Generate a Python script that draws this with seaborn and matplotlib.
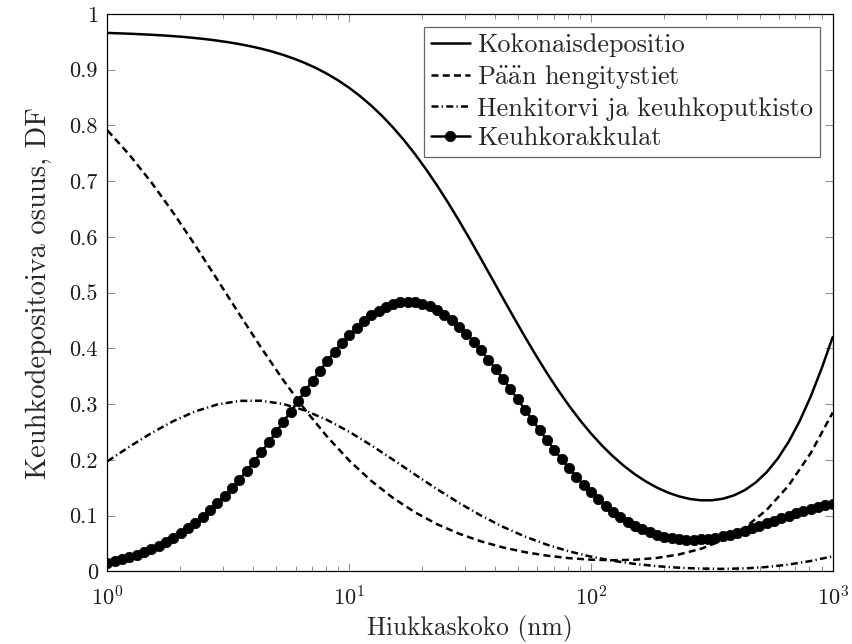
import numpy as np
import pandas as pd
import matplotlib
matplotlib.use("Agg")
import matplotlib.pyplot as plt
import seaborn as sns

# ---------------- data ----------------
# particle size grids (nm), log-spaced samples from 1 to 1000 nm
x_total = np.logspace(0, 3, 67)
x_line = np.logspace(0, 3, 34)
x_mark = np.logspace(0, 3, 100)

total = [0.9660, 0.9653, 0.9646, 0.9637, 0.9627, 0.9616, 0.9602, 0.9587, 0.9568, 0.9547,
         0.9522, 0.9493, 0.9460, 0.9421, 0.9377, 0.9325, 0.9265, 0.9197, 0.9118, 0.9028,
         0.8925, 0.8808, 0.8675, 0.8525, 0.8357, 0.8170, 0.7962, 0.7733, 0.7483, 0.7212,
         0.6922, 0.6614, 0.6289, 0.5952, 0.5605, 0.5253, 0.4899, 0.4549, 0.4206, 0.3874,
         0.3556, 0.3256, 0.2975, 0.2714, 0.2476, 0.2260, 0.2066, 0.1894, 0.1743, 0.1614,
         0.1505, 0.1416, 0.1348, 0.1301, 0.1277, 0.1277, 0.1305, 0.1364, 0.1459, 0.1597,
         0.1783, 0.2025, 0.2329, 0.2700, 0.3139, 0.3645, 0.4204]

head = [0.7911, 0.7473, 0.6978, 0.6431, 0.5845, 0.5234, 0.4616, 0.4009, 0.3432,
        0.2897, 0.2416, 0.1991, 0.1626, 0.1317, 0.1060, 0.0848, 0.0677, 0.0540,
        0.0431, 0.0347, 0.0284, 0.0239, 0.0212, 0.0202, 0.0211, 0.0243, 0.0305,
        0.0406, 0.0560, 0.0786, 0.1106, 0.1545, 0.2124, 0.2850]

trachea = [0.1977, 0.2239, 0.2483, 0.2698, 0.2872, 0.2995, 0.3060, 0.3063, 0.3004,
           0.2887, 0.2717, 0.2506, 0.2264, 0.2004, 0.1737, 0.1476, 0.1229, 0.1002,
           0.0800, 0.0626, 0.0480, 0.0361, 0.0266, 0.0192, 0.0136, 0.0095, 0.0068,
           0.0052, 0.0047, 0.0056, 0.0081, 0.0124, 0.0188, 0.0272]

alveolar = [0.0159, 0.0187, 0.0220, 0.0257, 0.0299, 0.0347, 0.0401, 0.0461, 0.0528, 0.0603,
            0.0685, 0.0775, 0.0874, 0.0981, 0.1097, 0.1221, 0.1355, 0.1496, 0.1646, 0.1804,
            0.1969, 0.2140, 0.2316, 0.2497, 0.2681, 0.2868, 0.3054, 0.3240, 0.3423, 0.3602,
            0.3775, 0.3940, 0.4096, 0.4240, 0.4373, 0.4490, 0.4593, 0.4679, 0.4747, 0.4797,
            0.4827, 0.4839, 0.4830, 0.4802, 0.4755, 0.4690, 0.4607, 0.4507, 0.4391, 0.4261,
            0.4119, 0.3965, 0.3801, 0.3630, 0.3453, 0.3271, 0.3087, 0.2902, 0.2718, 0.2535,
            0.2356, 0.2182, 0.2014, 0.1853, 0.1700, 0.1556, 0.1420, 0.1294, 0.1179, 0.1073,
            0.0978, 0.0893, 0.0819, 0.0754, 0.0700, 0.0656, 0.0621, 0.0595, 0.0578, 0.0569,
            0.0568, 0.0574, 0.0587, 0.0606, 0.0631, 0.0661, 0.0695, 0.0732, 0.0773, 0.0816,
            0.0861, 0.0907, 0.0952, 0.0997, 0.1041, 0.1083, 0.1122, 0.1157, 0.1189, 0.1217]

labels = ["Kokonaisdepositio", r"P$\ddot{\mathrm{a}}\ddot{\mathrm{a}}$n hengitystiet",
          "Henkitorvi ja keuhkoputkisto", "Keuhkorakkulat"]
ytick_vals = [0, 0.1, 0.2, 0.3, 0.4, 0.5, 0.6, 0.7, 0.8, 0.9, 1]
ytick_text = ["0", "0.1", "0.2", "0.3", "0.4", "0.5", "0.6", "0.7", "0.8", "0.9", "1"]
xtick_vals = [1, 10, 100, 1000]

# ---------------- style ----------------
sns.set_style("ticks")
plt.rcParams["font.family"] = ["cmr10", "DejaVu Serif"]
plt.rcParams["mathtext.fontset"] = "cm"
plt.rcParams["axes.formatter.use_mathtext"] = True
plt.rcParams["axes.unicode_minus"] = False
FS_TICK = 16
FS_LAB = 18.3
FS_LEG = 18.9
FS_YLAB = 20.5

fig = plt.figure(figsize=(8.53, 6.44), dpi=100)
ax = fig.add_axes([0.126, 0.1126, 0.8502, 0.8657])

lw = 1.8
sns.lineplot(x=x_total, y=total, ax=ax, color="k", lw=lw, label=labels[0])
sns.lineplot(x=x_line, y=head, ax=ax, color="k", lw=lw,
             linestyle=(0, (2.8, 1.7)), label=labels[1])
sns.lineplot(x=x_line, y=trachea, ax=ax, color="k", lw=lw,
             linestyle=(0, (2.8, 1.3, 0.5, 1.3)), label=labels[2])
sns.lineplot(x=x_mark, y=alveolar, ax=ax, color="k", lw=lw, marker="o",
             markersize=7.5, markeredgecolor="k", markerfacecolor="k",
             markeredgewidth=0.5, label=labels[3])

ax.set_xscale("log")
ax.set_xlim(1, 1000)
ax.set_ylim(0, 1)
ax.set_xticks(xtick_vals)
ax.set_yticks(ytick_vals)
ax.set_yticklabels(ytick_text)

for s in ax.spines.values():
    s.set_linewidth(0.9)
    s.set_color("k")

ax.tick_params(which="both", direction="in", top=True, right=True,
               color="0.55", width=0.7, labelsize=FS_TICK)
ax.tick_params(which="major", length=6)
ax.tick_params(which="minor", length=3.8)
ax.tick_params(axis="y", which="major", pad=7)
ax.tick_params(axis="x", which="major", pad=10)

ax.set_xlabel("Hiukkaskoko (nm)", fontsize=FS_LAB, color="0.15")
ax.set_ylabel("Keuhkodepositoiva osuus, DF", fontsize=FS_YLAB, color="0.15")
ax.xaxis.set_label_coords(0.5, -0.078)
ax.yaxis.set_label_coords(-0.0765, 0.5)
for t in ax.get_xticklabels() + ax.get_yticklabels():
    t.set_color("0.1")

leg = ax.legend(loc="upper right", fontsize=FS_LEG, frameon=True, fancybox=False,
                edgecolor="0.4", framealpha=1, handlelength=1.5,
                handletextpad=0.27, labelspacing=0.22, borderpad=0.25,
                borderaxespad=0.5)
leg.get_frame().set_linewidth(0.9)

fig.savefig("out.png", dpi=100)
